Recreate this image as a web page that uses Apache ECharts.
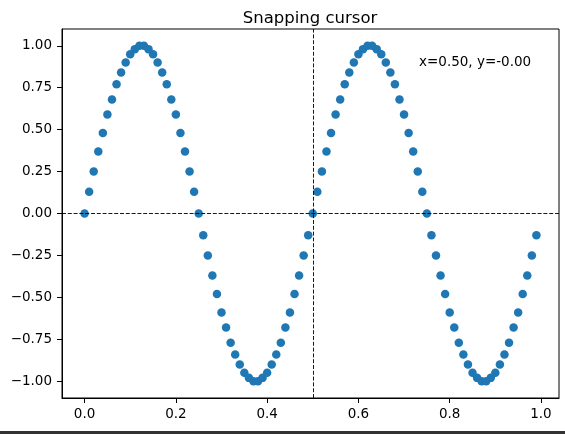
<!DOCTYPE html>
<html><head><meta charset="utf-8">
<script src="https://cdn.jsdelivr.net/npm/echarts@6/dist/echarts.min.js"></script>
<style>html,body{margin:0;padding:0;background:#fff}#c{width:565px;height:434px}</style>
</head><body><div id="c"></div>
<script>
const titleText = "Snapping cursor";
const cursorText = "x=0.50, y=-0.00";
const cursorX = 0.5;
const cursorY = 0.0;
const xTicks = [0.0, 0.2, 0.4, 0.6, 0.8, 1.0];
const yTicks = [-1.0, -0.75, -0.5, -0.25, 0.0, 0.25, 0.5, 0.75, 1.0];
const xs = [0.00,0.01,0.02,0.03,0.04,0.05,0.06,0.07,0.08,0.09,
            0.10,0.11,0.12,0.13,0.14,0.15,0.16,0.17,0.18,0.19,
            0.20,0.21,0.22,0.23,0.24,0.25,0.26,0.27,0.28,0.29,
            0.30,0.31,0.32,0.33,0.34,0.35,0.36,0.37,0.38,0.39,
            0.40,0.41,0.42,0.43,0.44,0.45,0.46,0.47,0.48,0.49,
            0.50,0.51,0.52,0.53,0.54,0.55,0.56,0.57,0.58,0.59,
            0.60,0.61,0.62,0.63,0.64,0.65,0.66,0.67,0.68,0.69,
            0.70,0.71,0.72,0.73,0.74,0.75,0.76,0.77,0.78,0.79,
            0.80,0.81,0.82,0.83,0.84,0.85,0.86,0.87,0.88,0.89,
            0.90,0.91,0.92,0.93,0.94,0.95,0.96,0.97,0.98,0.99];
const ys = [0.00,0.13,0.25,0.37,0.48,0.59,0.68,0.77,0.84,0.90,
            0.95,0.98,1.00,1.00,0.98,0.95,0.90,0.84,0.77,0.68,
            0.59,0.48,0.37,0.25,0.13,0.00,-0.13,-0.25,-0.37,-0.48,
            -0.59,-0.68,-0.77,-0.84,-0.90,-0.95,-0.98,-1.00,-1.00,-0.98,
            -0.95,-0.90,-0.84,-0.77,-0.68,-0.59,-0.48,-0.37,-0.25,-0.13,
            0.00,0.13,0.25,0.37,0.48,0.59,0.68,0.77,0.84,0.90,
            0.95,0.98,1.00,1.00,0.98,0.95,0.90,0.84,0.77,0.68,
            0.59,0.48,0.37,0.25,0.13,0.00,-0.13,-0.25,-0.37,-0.48,
            -0.59,-0.68,-0.77,-0.84,-0.90,-0.95,-0.98,-1.00,-1.00,-0.98,
            -0.95,-0.90,-0.84,-0.77,-0.68,-0.59,-0.48,-0.37,-0.25,-0.13];

const points = xs.map((x, i) => [x, ys[i]]);
const font = "DejaVu Sans";
const fmt = (v, d) => { const s = Math.abs(v) < 1e-9 ? (0).toFixed(d) : v.toFixed(d); return s.replace('-', '\u2212'); };

const chart = echarts.init(document.getElementById('c'), null, {renderer: 'canvas'});
chart.setOption({
  animation: false,
  backgroundColor: '#fff',
  title: {text: titleText, left: 305, top: 5, textAlign: 'center',
    textStyle: {fontFamily: font, fontSize: 16.5, fontWeight: 'normal', color: '#000'}},
  grid: {left: 62, right: 6, top: 29, bottom: 36, show: true, borderColor: '#000', borderWidth: 1, backgroundColor: 'transparent'},
  xAxis: {type: 'value', min: -0.0495, max: 1.0395,
    axisLine: {show: true, onZero: false, lineStyle: {color: '#000', width: 1}}, splitLine: {show: false},
    axisTick: {show: true, length: 5, lineStyle: {color: '#000', width: 1}, customValues: xTicks},
    axisLabel: {customValues: xTicks, margin: 9, formatter: v => fmt(v, 1), fontFamily: font, fontSize: 13.5, color: '#000'}},
  yAxis: {type: 'value', min: -1.1, max: 1.1,
    axisLine: {show: true, onZero: false, lineStyle: {color: '#000', width: 1}}, splitLine: {show: false},
    axisTick: {show: true, length: 5, lineStyle: {color: '#000', width: 1}, customValues: yTicks},
    axisLabel: {customValues: yTicks, margin: 10, formatter: v => fmt(v, 2), fontFamily: font, fontSize: 13.5, color: '#000'}},
  series: [{
    type: 'scatter', data: points, symbol: 'circle', symbolSize: 8.5,
    itemStyle: {color: '#1f77b4', opacity: 1},
    markLine: {silent: true, z: 10, symbol: ['none', 'none'], label: {show: false},
      lineStyle: {color: '#000', type: [4, 1.8], width: 0.9},
      data: [{xAxis: cursorX}, {yAxis: cursorY}]}
  }],
  graphic: [
    {type: 'text', left: 419, top: 55, style: {text: cursorText, font: '13.5px "DejaVu Sans"', fill: '#000'}},
    {type: 'rect', shape: {x: 0, y: 431, width: 565, height: 3}, style: {fill: '#333'}}
  ]
});
</script></body></html>
